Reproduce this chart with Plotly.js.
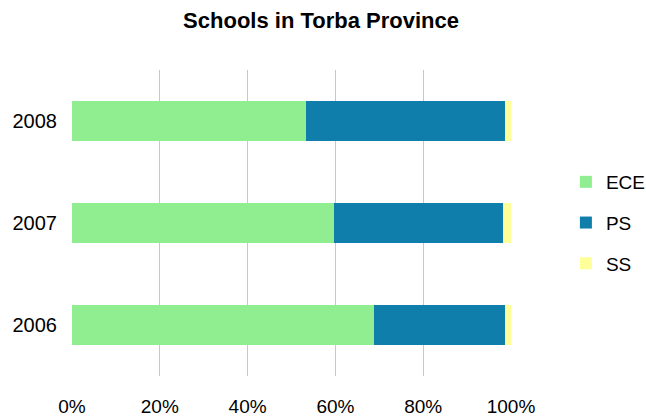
<!DOCTYPE html>
<html>
<head>
<meta charset="utf-8">
<script src="https://cdn.plot.ly/plotly-3.0.1.min.js"></script>
<style>html,body{margin:0;padding:0;background:#fff;}#chart{width:646px;height:420px;}</style>
</head>
<body>
<div id="chart"></div>
<script>
var years = ["2006", "2007", "2008"];
var ece = [68.8, 59.6, 53.2];
var ps = [29.8, 38.6, 45.4];
var ss = [1.4, 1.8, 1.4];
var tickVals = [0, 20, 40, 60, 80, 100];
var tickText = ["0%", "20%", "40%", "60%", "80%", "100%"];

var series = [
  {name: "ECE", values: ece, color: "#90EE90"},
  {name: "PS", values: ps, color: "#107EAB"},
  {name: "SS", values: ss, color: "#FFFF99"}
];

var traces = series.map(function(s){
  return {
    type: "bar", orientation: "h", name: s.name,
    x: s.values, y: years, legendgroup: s.name,
    marker: {color: s.color, line: {width: 0}},
    hoverinfo: "x+y+name"
  };
});

var layout = {
  width: 646, height: 420,
  margin: {l: 72, r: 135, t: 70, b: 44, autoexpand: false},
  paper_bgcolor: "#fff", plot_bgcolor: "#fff",
  barmode: "stack", barnorm: "percent", bargap: 0.6,
  font: {family: "Liberation Sans, Arial, sans-serif", size: 19, color: "#000"},
  title: {text: "<b>Schools in Torba Province</b>", x: 0.497, xref: "container", xanchor: "center",
          y: 0.952, yref: "container", yanchor: "middle",
          font: {family: "Liberation Sans, Arial, sans-serif", size: 22, color: "#000"}},
  xaxis: {range: [0, 100], tickvals: tickVals, ticktext: tickText, showgrid: true,
          gridcolor: "#c8c8c8", gridwidth: 1, zeroline: false, showline: false,
          ticks: "", ticklabelstandoff: 17, fixedrange: true, automargin: false},
  yaxis: {type: "category", showgrid: false, zeroline: false, showline: false, ticks: "",
          ticklabelstandoff: 14, fixedrange: true, automargin: false, tickfont: {size: 20}},
  legend: {x: 0.876, xref: "container", xanchor: "left", y: 0.5, yanchor: "middle", traceorder: "grouped",
           tracegroupgap: 13, font: {size: 19, color: "#000"}, bgcolor: "rgba(0,0,0,0)"},
  showlegend: true
};

Plotly.newPlot("chart", traces, layout, {displayModeBar: false, staticPlot: true});
</script>
</body>
</html>
